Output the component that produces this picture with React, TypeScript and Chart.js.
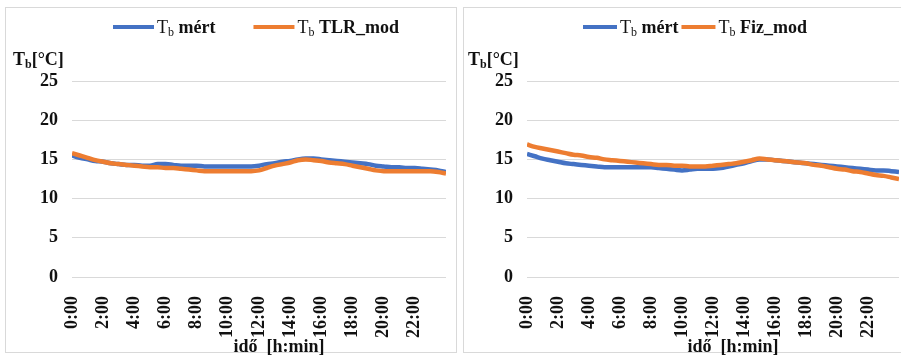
import React, { useEffect, useRef } from "react";
import { Chart, registerables } from "chart.js";

Chart.register(...registerables);

// ---- data ----
const times = [
  "0:00", "0:30", "1:00", "1:30", "2:00", "2:30", "3:00", "3:30", "4:00", "4:30",
  "5:00", "5:30", "6:00", "6:30", "7:00", "7:30", "8:00", "8:30", "9:00", "9:30",
  "10:00", "10:30", "11:00", "11:30", "12:00", "12:30", "13:00", "13:30", "14:00", "14:30",
  "15:00", "15:30", "16:00", "16:30", "17:00", "17:30", "18:00", "18:30", "19:00", "19:30",
  "20:00", "20:30", "21:00", "21:30", "22:00", "22:30", "23:00", "23:30", "24:00",
];
const xTickLabels = ["0:00", "2:00", "4:00", "6:00", "8:00", "10:00", "12:00", "14:00", "16:00", "18:00", "20:00", "22:00"];
const yTicks = [0, 5, 10, 15, 20, 25];

const leftMeasured = [
  15.5, 15.2, 15.0, 14.8, 14.7, 14.5, 14.4, 14.3, 14.3, 14.2,
  14.2, 14.4, 14.4, 14.3, 14.2, 14.2, 14.2, 14.1, 14.1, 14.1,
  14.1, 14.1, 14.1, 14.1, 14.2, 14.4, 14.5, 14.7, 14.8, 15.0,
  15.1, 15.1, 15.0, 14.9, 14.8, 14.7, 14.6, 14.5, 14.4, 14.2,
  14.1, 14.0, 14.0, 13.9, 13.9, 13.8, 13.7, 13.6, 13.4,
];
const leftTLR = [
  15.8, 15.5, 15.2, 14.9, 14.7, 14.5, 14.4, 14.3, 14.2, 14.1,
  14.0, 14.0, 13.9, 13.9, 13.8, 13.7, 13.6, 13.5, 13.5, 13.5,
  13.5, 13.5, 13.5, 13.5, 13.6, 13.9, 14.2, 14.4, 14.6, 14.9,
  15.0, 14.9, 14.8, 14.6, 14.5, 14.4, 14.2, 14.0, 13.8, 13.6,
  13.5, 13.5, 13.5, 13.5, 13.5, 13.5, 13.5, 13.4, 13.2,
];
const rightMeasured = [
  15.7, 15.4, 15.1, 14.9, 14.7, 14.5, 14.4, 14.3, 14.2, 14.1,
  14.0, 14.0, 14.0, 14.0, 14.0, 14.0, 14.0, 13.9, 13.8, 13.7,
  13.6, 13.7, 13.8, 13.8, 13.8, 13.9, 14.1, 14.3, 14.5, 14.8,
  15.0, 15.0, 14.9, 14.8, 14.7, 14.6, 14.5, 14.4, 14.3, 14.2,
  14.1, 14.0, 13.9, 13.8, 13.7, 13.6, 13.6, 13.5, 13.4,
];
const rightFiz = [
  16.9, 16.6, 16.4, 16.2, 16.0, 15.8, 15.6, 15.5, 15.3, 15.2,
  15.0, 14.9, 14.8, 14.7, 14.6, 14.5, 14.4, 14.3, 14.3, 14.2,
  14.2, 14.1, 14.1, 14.1, 14.2, 14.3, 14.4, 14.5, 14.7, 14.9,
  15.1, 15.0, 14.9, 14.8, 14.7, 14.6, 14.5, 14.3, 14.2, 14.0,
  13.8, 13.7, 13.5, 13.4, 13.2, 13.0, 12.9, 12.7, 12.5,
];

const BLUE = "#4472C4";
const ORANGE = "#ED7D31";
const GRID = "#d9d9d9";
const FONT = "'Liberation Serif', 'Times New Roman', serif";

const parseTime = (s: string) => {
  const [h, m] = s.split(":").map(Number);
  return h + m / 60;
};

// draws "T" + subscript "b" + rest; returns end x
function drawSubText(
  ctx: CanvasRenderingContext2D,
  x: number,
  baseline: number,
  rest: string,
  size: number,
  mainWeight: string,
  restWeight: string
) {
  ctx.textAlign = "left";
  ctx.textBaseline = "alphabetic";
  ctx.font = `${mainWeight} ${size}px ${FONT}`;
  ctx.fillText("T", x, baseline);
  x += ctx.measureText("T").width;
  const subSize = Math.round(size * 0.68);
  ctx.font = `${mainWeight} ${subSize}px ${FONT}`;
  ctx.fillText("b", x, baseline + 3);
  x += ctx.measureText("b").width;
  ctx.font = `${restWeight} ${size}px ${FONT}`;
  ctx.fillText(rest, x, baseline);
  x += ctx.measureText(rest).width;
  return x;
}

const textPlugin = {
  id: "texts",
  afterDraw(chart: any, _args: any, opts: any) {
    const ctx: CanvasRenderingContext2D = chart.ctx;
    ctx.save();
    ctx.fillStyle = "#111";
    // legend
    let x = opts.legendX;
    const y = opts.legendY;
    chart.data.datasets.forEach((ds: any) => {
      ctx.strokeStyle = ds.borderColor;
      ctx.lineWidth = 4;
      ctx.beginPath();
      ctx.moveTo(x, y);
      ctx.lineTo(x + opts.sampleW, y);
      ctx.stroke();
      x += opts.sampleW + 3;
      ctx.fillStyle = "#111";
      x = drawSubText(ctx, x, y + 6, " " + ds.label, 18, "normal", "bold");
      x += opts.itemGap;
    });
    // y title
    drawSubText(ctx, opts.yTitleX, opts.yTitleY, "[°C]", 18, "bold", "bold");
    // x title
    ctx.font = `bold 18px ${FONT}`;
    ctx.textAlign = "center";
    ctx.textBaseline = "alphabetic";
    ctx.fillText(opts.xTitle, opts.xTitleX, opts.xTitleY);
    ctx.restore();
  },
};

type PanelProps = {
  measured: number[];
  model: number[];
  modelName: string;
  left: number;
  width: number;
  yWidth: number;
  padRight: number;
  texts: any;
};

function Panel(p: PanelProps) {
  const ref = useRef<HTMLCanvasElement>(null);
  useEffect(() => {
    if (!ref.current) return;
    const toXY = (arr: number[]) => arr.map((v, i) => ({ x: parseTime(times[i]), y: v }));
    const tickFont = { family: FONT, size: 18, weight: "bold" as const };
    const chart = new Chart(ref.current, {
      type: "line",
      data: {
        datasets: [
          { label: "mért", data: toXY(p.measured), borderColor: BLUE, backgroundColor: BLUE, order: 1 },
          { label: p.modelName, data: toXY(p.model), borderColor: ORANGE, backgroundColor: ORANGE, order: 0 },
        ],
      },
      options: {
        animation: false,
        responsive: false,
        maintainAspectRatio: false,
        layout: { padding: { top: 73, right: p.padRight, left: 0, bottom: 0 } },
        elements: {
          point: { radius: 0 },
          line: { borderWidth: 4.5, tension: 0.3, cubicInterpolationMode: "monotone" },
        },
        plugins: {
          legend: { display: false },
          tooltip: { enabled: false },
          texts: p.texts,
        } as any,
        scales: {
          x: {
            type: "linear",
            min: 0,
            max: 24,
            grid: { display: false },
            border: { display: false },
            afterBuildTicks: (s: any) => {
              s.ticks = xTickLabels.map((l) => ({ value: parseTime(l) }));
            },
            afterFit: (s: any) => {
              s.height = 81;
            },
            ticks: {
              autoSkip: false,
              minRotation: 90,
              maxRotation: 90,
              padding: 11,
              color: "#111",
              font: tickFont,
              callback: (_v: any, i: number) => xTickLabels[i],
            },
          },
          y: {
            min: 0,
            max: 25,
            afterBuildTicks: (s: any) => {
              s.ticks = yTicks.map((v) => ({ value: v }));
            },
            afterFit: (s: any) => {
              s.width = p.yWidth;
            },
            grid: { color: GRID, drawTicks: false, lineWidth: 1 },
            border: { display: false },
            ticks: { padding: 14, color: "#111", font: tickFont },
          },
        },
      },
      plugins: [textPlugin],
    } as any);
    return () => chart.destroy();
  }, []);
  return (
    <canvas
      ref={ref}
      width={p.width}
      height={350}
      style={{ position: "absolute", left: p.left, top: 8, width: p.width, height: 350 }}
    />
  );
}

export default function App() {
  useEffect(() => {
    document.body.style.margin = "0";
  }, []);
  return (
    <div style={{ position: "absolute", left: 0, top: 0, width: 901, height: 358, overflow: "hidden", background: "#fff" }}>
      <div style={{ position: "absolute", left: 5, top: 7, width: 452, height: 346, border: `1px solid ${GRID}`, boxSizing: "border-box" }} />
      <div style={{ position: "absolute", left: 463, top: 7, width: 460, height: 346, border: `1px solid ${GRID}`, boxSizing: "border-box" }} />
      <Panel
        measured={leftMeasured}
        model={leftTLR}
        modelName="TLR_mod"
        left={6}
        width={450}
        yWidth={66}
        padRight={10}
        texts={{ legendX: 107, legendY: 19, sampleW: 41, itemGap: 38, yTitleX: 7, yTitleY: 57, xTitle: "idő  [h:min]", xTitleX: 273, xTitleY: 344 }}
      />
      <Panel
        measured={rightMeasured}
        model={rightFiz}
        modelName="Fiz_mod"
        left={464}
        width={437}
        yWidth={63}
        padRight={2}
        texts={{ legendX: 119, legendY: 19, sampleW: 34, itemGap: 3, yTitleX: 4, yTitleY: 57, xTitle: "idő  [h:min]", xTitleX: 269, xTitleY: 344 }}
      />
    </div>
  );
}
